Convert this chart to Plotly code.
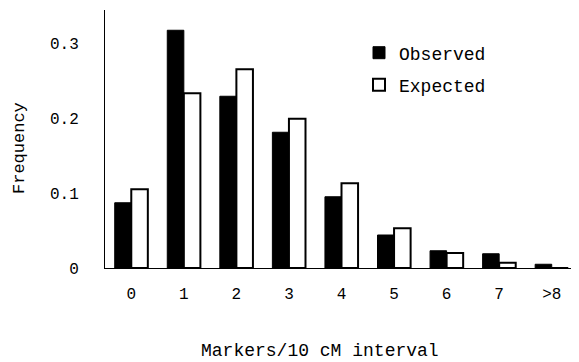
import plotly.graph_objects as go

categories = ["0", "1", "2", "3", "4", "5", "6", "7", ">8"]
observed = [0.087, 0.317, 0.229, 0.181, 0.095, 0.044, 0.023, 0.019, 0.005]
expected = [0.105, 0.233, 0.265, 0.199, 0.113, 0.053, 0.020, 0.007, 0.0]
y_ticks = [0, 0.1, 0.2, 0.3]
y_ticktext = ["0", "0.1", "0.2", "0.3"]

FONT = "Liberation Mono, Courier New, monospace"

# The page body has an 8px default margin, so the figure is drawn 8px smaller.
W, H = 571, 354
L, R, T, B = 97, 1, 2, 94
PW, PH = W - L - R, H - T - B

fig = go.Figure()
fig.add_trace(go.Bar(x=categories, y=observed, name="Observed", legend="legend",
                     marker=dict(color="black", line=dict(color="black", width=1))))
fig.add_trace(go.Bar(x=categories, y=expected, name="Expected", legend="legend2",
                     marker=dict(color="white", line=dict(color="black", width=2))))

legend_common = dict(xanchor="left", yanchor="middle", font=dict(size=18, family=FONT),
                     bgcolor="rgba(0,0,0,0)", borderwidth=0)

fig.update_layout(
    width=W, height=H,
    margin=dict(l=L, r=R, t=T, b=B, autoexpand=False),
    paper_bgcolor="white", plot_bgcolor="white",
    barmode="group", bargap=0.37, bargroupgap=0,
    font=dict(family=FONT, color="black", size=16),
    showlegend=True,
    legend=dict(x=(359 - 8 - L) / PW, y=1 - (53 - 8 - T) / PH, **legend_common),
    legend2=dict(x=(359 - 8 - L) / PW, y=1 - (85 - 8 - T) / PH, **legend_common),
)

fig.update_xaxes(type="category", showline=True, linecolor="black", linewidth=1,
                 ticks="", showgrid=False, zeroline=False,
                 tickfont=dict(size=16, family=FONT), ticklabelstandoff=11)
fig.update_yaxes(range=[0, 0.344], showline=True, linecolor="black", linewidth=1,
                 tickvals=y_ticks, ticktext=y_ticktext, ticks="", showgrid=False,
                 zeroline=False, tickfont=dict(size=16, family=FONT), ticklabelstandoff=22)

fig.add_annotation(text="Markers/10 cM interval", xref="paper", yref="paper",
                   x=(320 - 8 - L) / PW, y=-(351 - 268) / PH, showarrow=False,
                   xanchor="center", yanchor="middle", font=dict(size=18, family=FONT))
fig.add_annotation(text="Frequency", xref="paper", yref="paper",
                   x=-(105 - 19) / PW, y=(268 - 148) / PH, showarrow=False, textangle=-90,
                   xanchor="center", yanchor="middle", font=dict(size=17, family=FONT))

fig.write_html("out.html")
